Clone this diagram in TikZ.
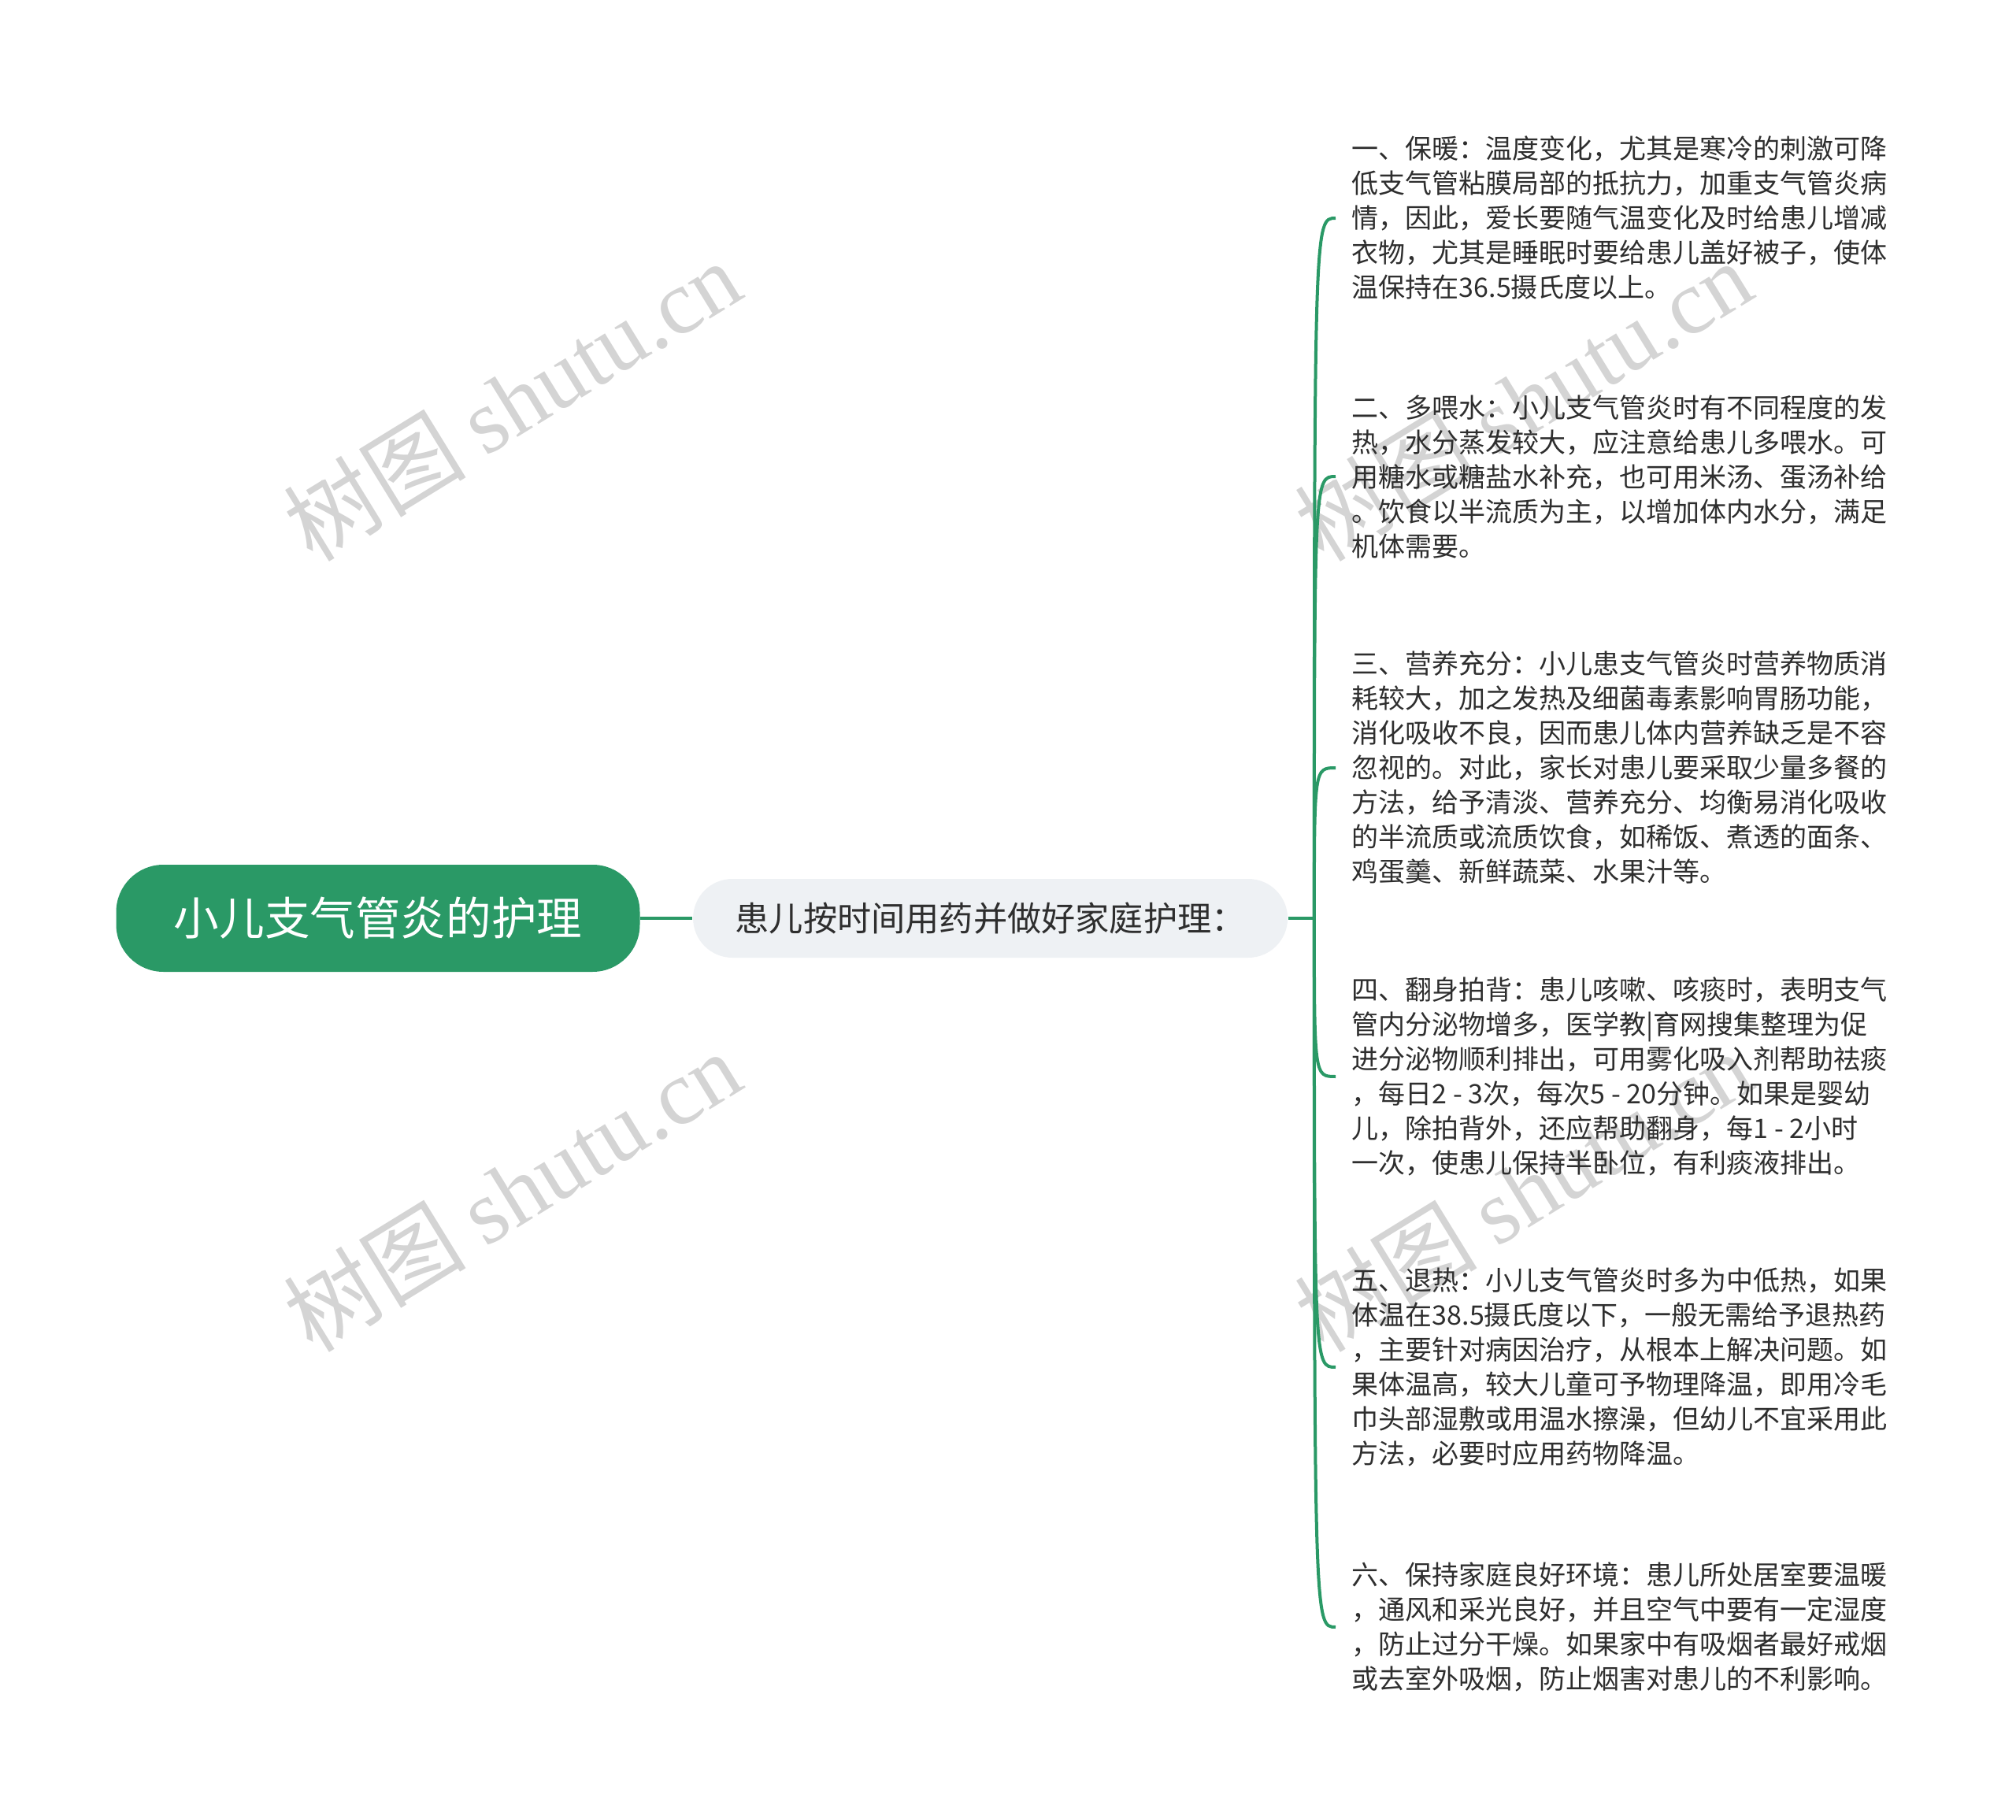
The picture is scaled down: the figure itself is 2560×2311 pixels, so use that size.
\documentclass[tikz,border=0pt]{standalone}
\usepackage{fontspec}
\setmainfont{Noto Sans CJK SC}
\newfontfamily\wmlatin{Liberation Serif}
\usetikzlibrary{positioning}
\definecolor{mapgreen}{HTML}{2A9966}
\definecolor{midgray}{HTML}{EEF1F4}
\definecolor{inkgray}{HTML}{2E2E2E}

\begin{document}
\begin{tikzpicture}[x=0.25pt, y=-0.25pt,
    link/.style={mapgreen, line width=1pt},
    rootbox/.style={fill=mapgreen, text=white, rounded corners=15pt, minimum width=166.25pt, minimum height=34pt, font=\fontsize{14.4pt}{16pt}\selectfont},
    midbox/.style={fill=midgray, text=inkgray, rounded corners=12.5pt, minimum width=188.75pt, minimum height=25pt, font=\fontsize{10.8pt}{13pt}\selectfont},
    leaf/.style={anchor=west, align=left, text=inkgray, inner xsep=5pt, inner ysep=0pt, font=\fontsize{8.5pt}{11pt}\selectfont},
    wmtext/.style={text=black!17, rotate=31.6, font=\fontsize{29pt}{29pt}\selectfont}]

    \fill[white] (0,0) rectangle (2560,2311);
    \useasboundingbox (0,0) rectangle (2560,2311);

    \node[wmtext] (wm1) at (650,508) {树图 {\wmlatin shutu.cn}};
    \node[wmtext] (wm2) at (650,1512) {树图 {\wmlatin shutu.cn}};
    \node[wmtext] (wm3) at (1934,508) {树图 {\wmlatin shutu.cn}};
    \node[wmtext] (wm4) at (1934,1512) {树图 {\wmlatin shutu.cn}};

    \node[rootbox] (root) at (480,1166) {小儿支气管炎的护理};
    \node[midbox, right=16.5pt of root] (mid) {患儿按时间用药并做好家庭护理：};
    \coordinate (trunk) at ([xshift=8.25pt]mid.east);

    \node[leaf] (c1) at (1696,277) {一、保暖：温度变化，尤其是寒冷的刺激可降\\
        低支气管粘膜局部的抵抗力，加重支气管炎病\\
        情，因此，爱长要随气温变化及时给患儿增减\\
        衣物，尤其是睡眠时要给患儿盖好被子，使体\\
        温保持在36.5摄氏度以上。};
    \node[leaf] (c2) at (1696,605) {二、多喂水：小儿支气管炎时有不同程度的发\\
        热，水分蒸发较大，应注意给患儿多喂水。可\\
        用糖水或糖盐水补充，也可用米汤、蛋汤补给\\
        。饮食以半流质为主，以增加体内水分，满足\\
        机体需要。};
    \node[leaf] (c3) at (1696,975) {三、营养充分：小儿患支气管炎时营养物质消\\
        耗较大，加之发热及细菌毒素影响胃肠功能，\\
        消化吸收不良，因而患儿体内营养缺乏是不容\\
        忽视的。对此，家长对患儿要采取少量多餐的\\
        方法，给予清淡、营养充分、均衡易消化吸收\\
        的半流质或流质饮食，如稀饭、煮透的面条、\\
        鸡蛋羹、新鲜蔬菜、水果汁等。};
    \node[leaf] (c4) at (1696,1367) {四、翻身拍背：患儿咳嗽、咳痰时，表明支气\\
        管内分泌物增多，医学教|育网搜集整理为促\\
        进分泌物顺利排出，可用雾化吸入剂帮助祛痰\\
        ，每日2 - 3次，每次5 - 20分钟。如果是婴幼\\
        儿，除拍背外，还应帮助翻身，每1 - 2小时\\
        一次，使患儿保持半卧位，有利痰液排出。};
    \node[leaf] (c5) at (1696,1736) {五、退热：小儿支气管炎时多为中低热，如果\\
        体温在38.5摄氏度以下，一般无需给予退热药\\
        ，主要针对病因治疗，从根本上解决问题。如\\
        果体温高，较大儿童可予物理降温，即用冷毛\\
        巾头部湿敷或用温水擦澡，但幼儿不宜采用此\\
        方法，必要时应用药物降温。};
    \node[leaf] (c6) at (1696,2066) {六、保持家庭良好环境：患儿所处居室要温暖\\
        ，通风和采光良好，并且空气中要有一定湿度\\
        ，防止过分干燥。如果家中有吸烟者最好戒烟\\
        或去室外吸烟，防止烟害对患儿的不利影响。};

    \draw[link] (root) -- (mid);
    \draw[link] (mid) -- (trunk);
    \foreach \leafname in {c1,c2,c3,c4,c5,c6}
        \draw[link] (trunk) .. controls (trunk |- \leafname.west) .. (\leafname.west);

\end{tikzpicture}
\end{document}
